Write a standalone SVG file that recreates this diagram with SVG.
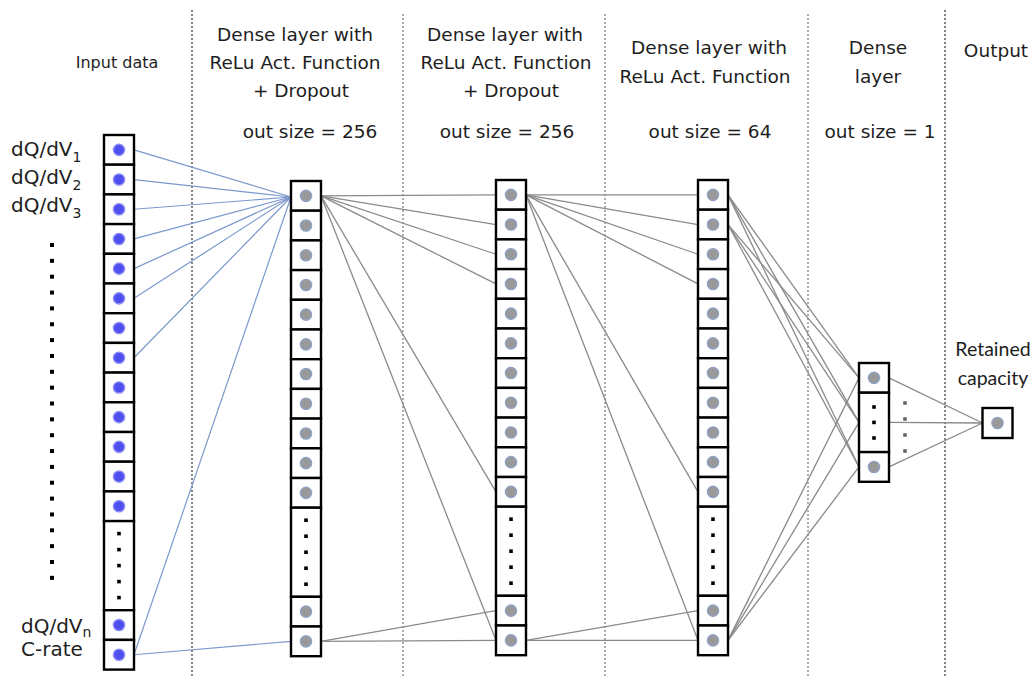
<svg xmlns="http://www.w3.org/2000/svg" width="1035" height="678" viewBox="0 0 1035 678">
  <style>
    .cell { fill: #fff; stroke: #000; stroke-width: 2.4; }
    .ng { fill: #999; stroke: #8fa2c4; stroke-width: 1.4; }
    .nb { fill: #4f4ff0; stroke: #8c8cf6; stroke-width: 1.4; }
    .dot { fill: #000; }
    .gdot { fill: #666; }
    .div { stroke: #333; stroke-width: 1.2; stroke-dasharray: 2 2; fill: none; }
    .div-l { stroke: #777; }
    .lb { stroke: #7b98cc; stroke-width: 1.2; fill: none; }
    .lg { stroke: #8a8a8a; stroke-width: 1.3; fill: none; }
    text { font-family: "DejaVu Sans", Verdana, sans-serif; fill: #1e1e1e; }
    .hd { font-size: 18.5px; text-anchor: middle; }
    .lbl { font-size: 20px; }
    .cap { font-family: Lato, "Open Sans", sans-serif; font-size: 19.5px; text-anchor: middle; }
  </style>
  <defs>
    <!-- one neuron cell of a hidden layer -->
    <g id="cg"><rect class="cell" width="30" height="29.7"/><circle class="ng" cx="15" cy="14.85" r="5.6"/></g>
    <!-- one input cell -->
    <g id="cb"><rect class="cell" width="30" height="29.7"/><circle class="nb" cx="15" cy="14.85" r="5.6"/></g>
    <!-- ellipsis cell spanning three rows -->
    <g id="dots">
      <rect class="cell" width="30" height="89.1"/>
      <rect class="dot" x="13.2" y="10.7" width="3.6" height="3.6"/>
      <rect class="dot" x="13.2" y="26.7" width="3.6" height="3.6"/>
      <rect class="dot" x="13.2" y="42.7" width="3.6" height="3.6"/>
      <rect class="dot" x="13.2" y="58.7" width="3.6" height="3.6"/>
      <rect class="dot" x="13.2" y="74.7" width="3.6" height="3.6"/>
    </g>
  </defs>

  <!-- column separators -->
  <g id="separators">
    <line class="div" x1="192" y1="10" x2="192" y2="678"/>
    <line class="div div-l" x1="403" y1="14" x2="403" y2="678"/>
    <line class="div div-l" x1="605" y1="14" x2="605" y2="678"/>
    <line class="div div-l" x1="808" y1="14" x2="808" y2="678"/>
    <line class="div" x1="945" y1="10" x2="945" y2="678"/>
  </g>

  <!-- headers -->
  <g id="headers">
    <text x="117" y="68" style="font-size:16px" text-anchor="middle">Input data</text>
    <text class="hd" x="295" y="41">Dense layer with</text>
    <text class="hd" x="295" y="69">ReLu Act. Function</text>
    <text class="hd" x="301" y="97">+ Dropout</text>
    <text class="hd" x="310" y="138">out size = 256</text>
    <text class="hd" x="505" y="41">Dense layer with</text>
    <text class="hd" x="506" y="69">ReLu Act. Function</text>
    <text class="hd" x="511" y="97">+ Dropout</text>
    <text class="hd" x="507" y="138">out size = 256</text>
    <text class="hd" x="709" y="54">Dense layer with</text>
    <text class="hd" x="705" y="83">ReLu Act. Function</text>
    <text class="hd" x="710" y="138">out size = 64</text>
    <text class="hd" x="878" y="54">Dense</text>
    <text class="hd" x="878" y="83">layer</text>
    <text class="hd" x="880" y="138">out size = 1</text>
    <text class="hd" x="996" y="57">Output</text>
  </g>

  <!-- input labels -->
  <g id="input-labels">
    <text class="lbl" x="11" y="156">dQ/dV<tspan font-size="14" dy="6">1</tspan></text>
    <text class="lbl" x="11" y="184">dQ/dV<tspan font-size="14" dy="6">2</tspan></text>
    <text class="lbl" x="11" y="212">dQ/dV<tspan font-size="14" dy="6">3</tspan></text>
    <text class="lbl" x="21" y="633">dQ/dV<tspan font-size="14" dy="4">n</tspan></text>
    <text class="lbl" x="21" y="656">C-rate</text>
    <g id="input-ellipsis" class="dot">
      <rect x="50" y="243" width="4" height="4"/><rect x="50" y="258.85" width="4" height="4"/>
      <rect x="50" y="274.7" width="4" height="4"/><rect x="50" y="290.55" width="4" height="4"/>
      <rect x="50" y="306.4" width="4" height="4"/><rect x="50" y="322.25" width="4" height="4"/>
      <rect x="50" y="338.1" width="4" height="4"/><rect x="50" y="353.95" width="4" height="4"/>
      <rect x="50" y="369.8" width="4" height="4"/><rect x="50" y="385.65" width="4" height="4"/>
      <rect x="50" y="401.5" width="4" height="4"/><rect x="50" y="417.35" width="4" height="4"/>
      <rect x="50" y="433.2" width="4" height="4"/><rect x="50" y="449.05" width="4" height="4"/>
      <rect x="50" y="464.9" width="4" height="4"/><rect x="50" y="480.75" width="4" height="4"/>
      <rect x="50" y="496.6" width="4" height="4"/><rect x="50" y="512.45" width="4" height="4"/>
      <rect x="50" y="528.3" width="4" height="4"/><rect x="50" y="544.15" width="4" height="4"/>
      <rect x="50" y="560" width="4" height="4"/><rect x="50" y="575.85" width="4" height="4"/>
    </g>
  </g>

  <!-- connections between layers -->
  <g id="connectors">
    <g class="lb">
      <line x1="134" y1="149.85" x2="291" y2="197"/>
      <line x1="134" y1="179.55" x2="291" y2="197"/>
      <line x1="134" y1="209.25" x2="291" y2="197"/>
      <line x1="134" y1="238.95" x2="291" y2="197"/>
      <line x1="134" y1="268.65" x2="291" y2="197"/>
      <line x1="134" y1="298.35" x2="291" y2="197"/>
      <line x1="134" y1="357.75" x2="291" y2="197"/>
      <line x1="134" y1="654.75" x2="291" y2="197"/>
      <line x1="134" y1="654.75" x2="291" y2="641.35"/>
    </g>
    <g class="lg">
      <line x1="321" y1="195.85" x2="496" y2="194.85"/>
      <line x1="321" y1="195.85" x2="496" y2="224.55"/>
      <line x1="321" y1="195.85" x2="496" y2="254.25"/>
      <line x1="321" y1="195.85" x2="496" y2="283.95"/>
      <line x1="321" y1="195.85" x2="496" y2="491.85"/>
      <line x1="321" y1="195.85" x2="496" y2="640.35"/>
      <line x1="321" y1="641.35" x2="496" y2="610.65"/>
      <line x1="321" y1="641.35" x2="496" y2="640.35"/>

      <line x1="526" y1="194.85" x2="698" y2="194.85"/>
      <line x1="526" y1="194.85" x2="698" y2="224.55"/>
      <line x1="526" y1="194.85" x2="698" y2="254.25"/>
      <line x1="526" y1="194.85" x2="698" y2="283.95"/>
      <line x1="526" y1="194.85" x2="698" y2="491.85"/>
      <line x1="526" y1="194.85" x2="698" y2="640.35"/>
      <line x1="526" y1="640.35" x2="698" y2="610.65"/>
      <line x1="526" y1="640.35" x2="698" y2="640.35"/>

      <line x1="728" y1="194.85" x2="859" y2="377.85"/>
      <line x1="728" y1="194.85" x2="859" y2="422.4"/>
      <line x1="728" y1="194.85" x2="859" y2="466.95"/>
      <line x1="728" y1="224.55" x2="859" y2="377.85"/>
      <line x1="728" y1="224.55" x2="859" y2="422.4"/>
      <line x1="728" y1="224.55" x2="859" y2="466.95"/>
      <line x1="728" y1="640.35" x2="859" y2="377.85"/>
      <line x1="728" y1="640.35" x2="859" y2="422.4"/>
      <line x1="728" y1="640.35" x2="859" y2="466.95"/>

      <line x1="889" y1="377.85" x2="982.5" y2="423"/>
      <line x1="889" y1="422.4" x2="982.5" y2="423"/>
      <line x1="889" y1="466.95" x2="982.5" y2="423"/>
    </g>
  </g>

  <!-- input layer -->
  <g id="input-layer">
    <use href="#cb" x="104" y="135"/>
    <use href="#cb" x="104" y="164.7"/>
    <use href="#cb" x="104" y="194.4"/>
    <use href="#cb" x="104" y="224.1"/>
    <use href="#cb" x="104" y="253.8"/>
    <use href="#cb" x="104" y="283.5"/>
    <use href="#cb" x="104" y="313.2"/>
    <use href="#cb" x="104" y="342.9"/>
    <use href="#cb" x="104" y="372.6"/>
    <use href="#cb" x="104" y="402.3"/>
    <use href="#cb" x="104" y="432"/>
    <use href="#cb" x="104" y="461.7"/>
    <use href="#cb" x="104" y="491.4"/>
    <use href="#dots" x="104" y="521.1"/>
    <use href="#cb" x="104" y="610.2"/>
    <use href="#cb" x="104" y="639.9"/>
  </g>

  <!-- dense layer 1 (256) -->
  <g id="dense-1">
    <use href="#cg" x="291" y="181"/>
    <use href="#cg" x="291" y="210.7"/>
    <use href="#cg" x="291" y="240.4"/>
    <use href="#cg" x="291" y="270.1"/>
    <use href="#cg" x="291" y="299.8"/>
    <use href="#cg" x="291" y="329.5"/>
    <use href="#cg" x="291" y="359.2"/>
    <use href="#cg" x="291" y="388.9"/>
    <use href="#cg" x="291" y="418.6"/>
    <use href="#cg" x="291" y="448.3"/>
    <use href="#cg" x="291" y="478"/>
    <use href="#dots" x="291" y="507.7"/>
    <use href="#cg" x="291" y="596.8"/>
    <use href="#cg" x="291" y="626.5"/>
  </g>

  <!-- dense layer 2 (256) -->
  <g id="dense-2">
    <use href="#cg" x="496" y="180"/>
    <use href="#cg" x="496" y="209.7"/>
    <use href="#cg" x="496" y="239.4"/>
    <use href="#cg" x="496" y="269.1"/>
    <use href="#cg" x="496" y="298.8"/>
    <use href="#cg" x="496" y="328.5"/>
    <use href="#cg" x="496" y="358.2"/>
    <use href="#cg" x="496" y="387.9"/>
    <use href="#cg" x="496" y="417.6"/>
    <use href="#cg" x="496" y="447.3"/>
    <use href="#cg" x="496" y="477"/>
    <use href="#dots" x="496" y="506.7"/>
    <use href="#cg" x="496" y="595.8"/>
    <use href="#cg" x="496" y="625.5"/>
  </g>

  <!-- dense layer 3 (64) -->
  <g id="dense-3">
    <use href="#cg" x="698" y="180"/>
    <use href="#cg" x="698" y="209.7"/>
    <use href="#cg" x="698" y="239.4"/>
    <use href="#cg" x="698" y="269.1"/>
    <use href="#cg" x="698" y="298.8"/>
    <use href="#cg" x="698" y="328.5"/>
    <use href="#cg" x="698" y="358.2"/>
    <use href="#cg" x="698" y="387.9"/>
    <use href="#cg" x="698" y="417.6"/>
    <use href="#cg" x="698" y="447.3"/>
    <use href="#cg" x="698" y="477"/>
    <use href="#dots" x="698" y="506.7"/>
    <use href="#cg" x="698" y="595.8"/>
    <use href="#cg" x="698" y="625.5"/>
  </g>

  <!-- dense layer 4 (1) -->
  <g id="dense-4">
    <use href="#cg" x="859" y="363"/>
    <rect class="cell" x="859" y="392.7" width="30" height="59.4"/>
    <rect class="dot" x="872.2" y="405.2" width="3.6" height="3.6"/>
    <rect class="dot" x="872.2" y="420.6" width="3.6" height="3.6"/>
    <rect class="dot" x="872.2" y="436.2" width="3.6" height="3.6"/>
    <use href="#cg" x="859" y="452.1"/>
    <g class="gdot">
      <rect x="903.2" y="401.2" width="3.6" height="3.6"/>
      <rect x="903.2" y="417.2" width="3.6" height="3.6"/>
      <rect x="903.2" y="433.2" width="3.6" height="3.6"/>
      <rect x="903.2" y="449.2" width="3.6" height="3.6"/>
    </g>
  </g>

  <!-- output node -->
  <g id="output">
    <text class="cap" x="993" y="356">Retained</text>
    <text class="cap" x="993" y="385">capacity</text>
    <rect class="cell" x="982.5" y="408" width="30" height="30"/>
    <circle class="ng" cx="997.5" cy="423" r="5.6"/>
  </g>
</svg>
